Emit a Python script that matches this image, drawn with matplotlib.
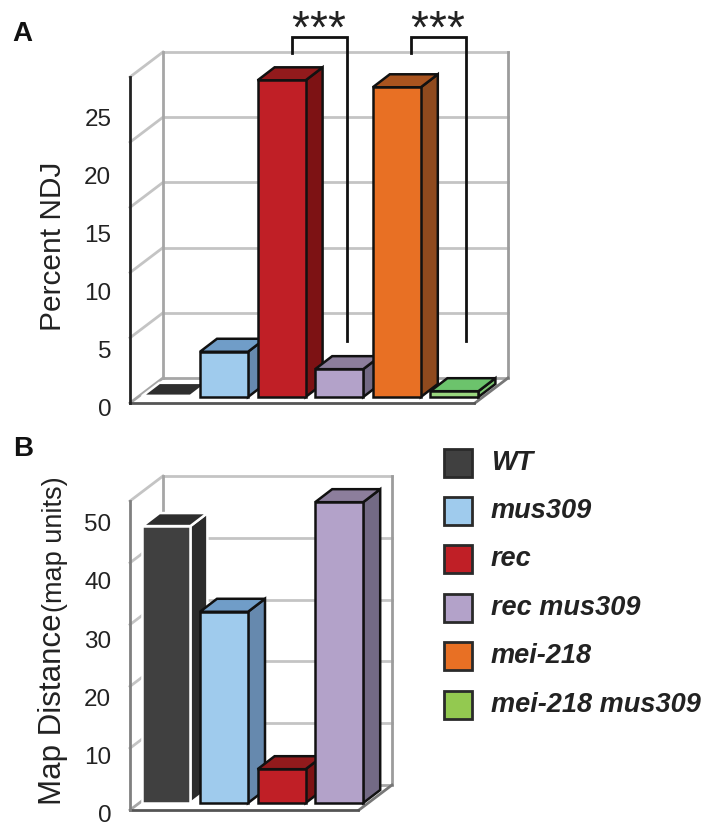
import matplotlib
matplotlib.use('Agg')
import matplotlib.pyplot as plt
from matplotlib.patches import Polygon, Rectangle
from matplotlib.transforms import ScaledTranslation

plt.rcParams['font.family'] = ['Liberation Sans', 'DejaVu Sans']

W, H = 714, 834
DPI = 100

genotypes = ['WT', 'mus309', 'rec', 'rec mus309', 'mei-218', 'mei-218 mus309']
ndj_percent = [0.1, 3.9, 27.3, 2.4, 26.7, 0.5]
map_distance = [47.5, 32.8, 5.8, 51.6]
ndj_ticks = [0, 5, 10, 15, 20, 25]
map_ticks = [0, 10, 20, 30, 40, 50]

front_cols = ['#404040', '#9fcbed', '#c01f26', '#b3a2c9', '#e87024', '#9ad67f']
top_cols = ['#2e2e2e', '#709dc8', '#921a1c', '#8c7e9c', '#a9541f', '#6cc36c']
side_cols = ['#2c2c2c', '#6689ae', '#7d1214', '#736a85', '#8f4a1e', '#7ac26f']
legend_cols = ['#404040', '#9fcbed', '#c01f26', '#b3a2c9', '#e87024', '#93c950']
edge_cols = ['white', '#111111', '#111111', '#111111', '#111111', '#111111']

PITCH = 57.6
FIRST_BAR = 166.4   # pixel centre of the first bar
BAR_W = 48 / PITCH
WALL_LW = 2.0
BAR_LW = 1.8

fig = plt.figure(figsize=(W / DPI, H / DPI), dpi=DPI)
px = fig.dpi_scale_trans


def make_panel(left, right, top, bottom, base, unit, ticks, label_shift):
    ax = fig.add_axes([left / W, 1 - bottom / H, (right - left) / W, (bottom - top) / H])
    ax.set_xlim((left - FIRST_BAR) / PITCH, (right - FIRST_BAR) / PITCH)
    ax.set_ylim((base - bottom) / unit, (base - top) / unit)
    ax.patch.set_visible(False)
    for s in ax.spines.values():
        s.set_visible(False)
    ax.set_xticks([])
    ax.set_yticks(ticks)
    ax.tick_params(axis='y', length=0, pad=13.5, labelsize=17.5, labelcolor='#222222')
    for lab in ax.get_yticklabels():
        lab.set_transform(lab.get_transform() + ScaledTranslation(0, -label_shift / DPI, px))
    return ax


def draw_walls(ax, base, unit, floor_px, step_px, n, front_col, wall_right):
    # back wall and left wall of the 3D box, wall_right in pixels
    x0 = ax.get_xlim()[0]
    dx = 33 / PITCH
    dy = 25 / unit
    x_back = x0 + dx
    x_right = (wall_right - FIRST_BAR) / PITCH
    floor = (base - floor_px) / unit
    step = step_px / unit
    top_lvl = floor + n * step
    for i in range(1, n + 1):
        lvl = floor + i * step
        ax.plot([x_back, x_right], [lvl, lvl], color='#c4c4c4', lw=WALL_LW, zorder=1, clip_on=False)
        ax.plot([x0, x_back], [lvl - dy, lvl], color='#c4c4c4', lw=WALL_LW, zorder=1, clip_on=False)
    ax.plot([x_back, x_back], [floor, top_lvl], color='#a6a6a6', lw=WALL_LW, zorder=1.2, clip_on=False)
    ax.plot([x_right, x_right], [floor, top_lvl], color='#9c9c9c', lw=WALL_LW, zorder=1.2, clip_on=False)
    ax.plot([x_back, x_right], [floor, floor], color='#a6a6a6', lw=WALL_LW, zorder=1.2, clip_on=False)
    ax.plot([x0, x_back], [floor - dy, floor], color='#a6a6a6', lw=WALL_LW, zorder=1.2, clip_on=False)
    ax.plot([x_right - dx, x_right], [floor - dy, floor], color='#777777', lw=WALL_LW, zorder=1.2, clip_on=False)
    ax.plot([x_right - dx - 0.01, x0], [floor - dy, floor - dy], color='#555555', lw=WALL_LW, zorder=1.3, clip_on=False)
    ax.plot([x0, x0], [floor - dy, top_lvl - dy], color=front_col, lw=WALL_LW, zorder=1.3, clip_on=False)


def draw_bars(ax, values, unit):
    dx = 17 / PITCH
    dy = 13 / unit
    for i, v in enumerate(values):
        l, r = i - BAR_W / 2, i + BAR_W / 2
        z = 3 + i
        side = Polygon([(r, 0), (r + dx, dy), (r + dx, v + dy), (r, v)], closed=True,
                       fc=side_cols[i], ec=edge_cols[i], lw=BAR_LW, zorder=z, joinstyle='miter')
        top = Polygon([(l, v), (l + dx, v + dy), (r + dx, v + dy), (r, v)], closed=True,
                      fc=top_cols[i], ec=edge_cols[i], lw=BAR_LW, zorder=z, joinstyle='miter')
        ax.add_patch(side)
        ax.add_patch(top)
        ax.bar(i, v, width=BAR_W, color=front_cols[i], edgecolor=edge_cols[i], linewidth=BAR_LW, zorder=z + 0.5)


# panel A
ax_a = make_panel(130, 508, 52, 403, 397, 11.6, ndj_ticks, 11)
draw_walls(ax_a, 397, 11.6, 378, 65.2, 5, '#222222', 508)
draw_bars(ax_a, ndj_percent, 11.6)

sig_pairs = [(2.18, 3.135), (4.246, 5.2)]
for x1, x2 in sig_pairs:
    ax_a.plot([x1, x1, x2, x2], [29.66, 31.03, 31.03, 4.83], color='#111111', lw=2.0,
              zorder=20, clip_on=False, solid_joinstyle='miter')
    for off in (-0.3125, 0, 0.3125):
        ax_a.text((x1 + x2) / 2 - 0.03 + off, 31.6, '*', fontsize=33, ha='center', va='center',
                  color='#222222', zorder=20, clip_on=False)

# panel B
ax_b = make_panel(130, 392, 476, 809, 803, 5.83, map_ticks, 11)
draw_walls(ax_b, 803, 5.83, 785, 61.8, 5, '#808080', 392)
draw_bars(ax_b, map_distance, 5.83)

# axis titles
fig.text(53 / W, 1 - 246 / H, 'Percent NDJ', rotation=90, fontsize=21.5, ha='center', va='center', color='#222222')
fig.text(53 / W, 1 - 805 / H, 'Map Distance', rotation=90, fontsize=22.5, ha='center', va='bottom', color='#222222')
fig.text(55 / W, 1 - 612 / H, '(map units)', rotation=90, fontsize=19.5, ha='center', va='bottom', color='#222222')

# panel letters
fig.text(12 / W, 1 - 34 / H, 'A', fontsize=20, fontweight='bold', ha='left', va='center', color='#111111')
fig.text(13 / W, 1 - 449 / H, 'B', fontsize=20, fontweight='bold', ha='left', va='center', color='#111111')

# legend
for i, name in enumerate(genotypes):
    yc = 462.5 + i * 48.4
    fig.add_artist(Rectangle((444 / W, 1 - (yc + 14) / H), 28 / W, 28 / H, transform=fig.transFigure,
                             fc=legend_cols[i], ec='#2a2a2a', lw=2.0))
    fig.text(491 / W, 1 - yc / H, name, fontsize=19.5, fontweight='bold', fontstyle='italic',
             ha='left', va='center', color='#222222')

fig.savefig('out.png', dpi=DPI)
